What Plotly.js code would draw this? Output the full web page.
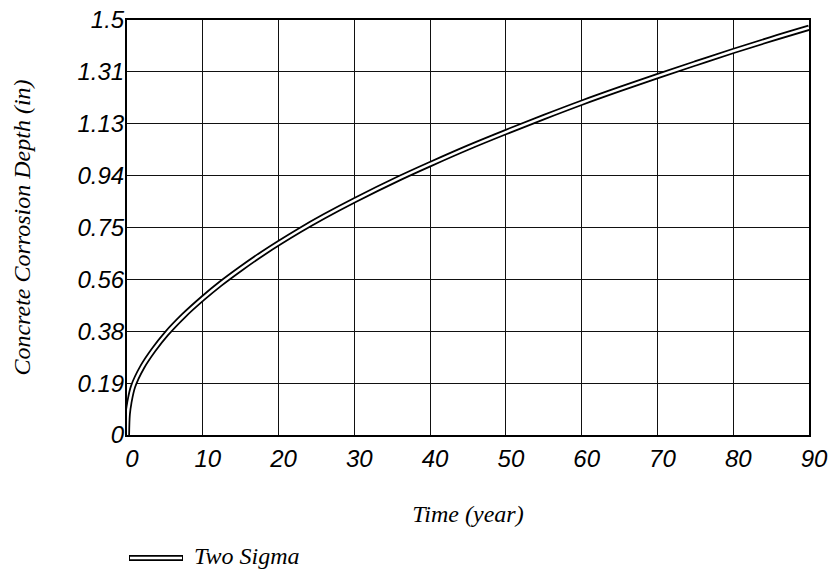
<!DOCTYPE html>
<html>
<head>
<meta charset="utf-8">
<script src="https://cdn.plot.ly/plotly-3.0.1.min.js"></script>
<style>html,body{margin:0;padding:0;background:#fff;}#chart{width:831px;height:570px;}</style>
</head>
<body>
<div id="chart"></div>
<script>
const timeYears = [0, 0.1, 0.3, 0.8, 2, 3.5, 5.2, 7.5, 10, 12.3, 15, 18, 22.8, 26, 30, 36, 40, 45, 50, 55, 60, 65, 70, 75, 80, 85, 90];
const depthTwoSigma = [0, 0.075, 0.115, 0.175, 0.245, 0.307, 0.366, 0.432, 0.494, 0.546, 0.601, 0.658, 0.74, 0.79, 0.848, 0.929, 0.979, 1.039, 1.095, 1.149, 1.201, 1.25, 1.297, 1.343, 1.388, 1.431, 1.472];
const xTickVals = [0, 10, 20, 30, 40, 50, 60, 70, 80, 90];
const yTickVals = [0, 0.1875, 0.375, 0.5625, 0.75, 0.9375, 1.125, 1.3125, 1.5];
const yTickText = ['0', '0.19', '0.38', '0.56', '0.75', '0.94', '1.13', '1.31', '1.5'];
const seriesName = 'Two Sigma';

const W = 831, H = 570, ml = 127, mr = 22, mt = 20, mb = 135;
const pw = W - ml - mr, ph = H - mt - mb;
const px = v => (v - ml) / pw;
const py = v => (H - mb - v) / ph;

const tickFont = {family: '"Liberation Sans", Arial, sans-serif', size: 24, color: '#000', style: 'italic'};
const titleFont = {family: '"Liberation Serif", "Times New Roman", serif', size: 24, color: '#000', style: 'italic'};

const traces = [
  {x: timeYears, y: depthTwoSigma, type: 'scatter', mode: 'lines', name: seriesName,
   line: {color: '#000', width: 6, shape: 'spline', smoothing: 1}, showlegend: false, hoverinfo: 'skip'},
  {x: timeYears, y: depthTwoSigma, type: 'scatter', mode: 'lines', name: seriesName,
   line: {color: '#fff', width: 2.5, shape: 'spline', smoothing: 1}, showlegend: false}
];

const layout = {
  width: W, height: H,
  margin: {l: ml, r: mr, t: mt, b: mb},
  paper_bgcolor: '#fff', plot_bgcolor: '#fff',
  showlegend: false,
  xaxis: {
    range: [0, 90], tickvals: xTickVals, ticks: '', ticklabelstandoff: 1, ticklabelshift: 5,
    showgrid: true, gridcolor: '#111', gridwidth: 1,
    showline: true, linecolor: '#000', linewidth: 2, mirror: true,
    zeroline: false, tickfont: tickFont,
    title: {text: 'Time (year)', font: titleFont, standoff: 34}
  },
  yaxis: {
    range: [0, 1.5], tickvals: yTickVals, ticktext: yTickText, ticks: '', ticklabelstandoff: -4,
    showgrid: true, gridcolor: '#111', gridwidth: 1,
    showline: true, linecolor: '#000', linewidth: 2, mirror: true,
    zeroline: false, tickfont: tickFont,
    title: {text: 'Concrete Corrosion Depth (in)', font: titleFont, standoff: 40}
  },
  shapes: [
    {type: 'line', xref: 'paper', yref: 'paper', x0: px(129), x1: px(183), y0: py(558), y1: py(558), line: {color: '#000', width: 6}},
    {type: 'line', xref: 'paper', yref: 'paper', x0: px(130), x1: px(182), y0: py(558), y1: py(558), line: {color: '#fff', width: 2.5}}
  ],
  annotations: [
    {xref: 'paper', yref: 'paper', x: px(192), y: py(556), xanchor: 'left', yanchor: 'middle',
     text: seriesName, showarrow: false, font: titleFont}
  ]
};

Plotly.newPlot('chart', traces, layout, {displayModeBar: false, staticPlot: true});
</script>
</body>
</html>
